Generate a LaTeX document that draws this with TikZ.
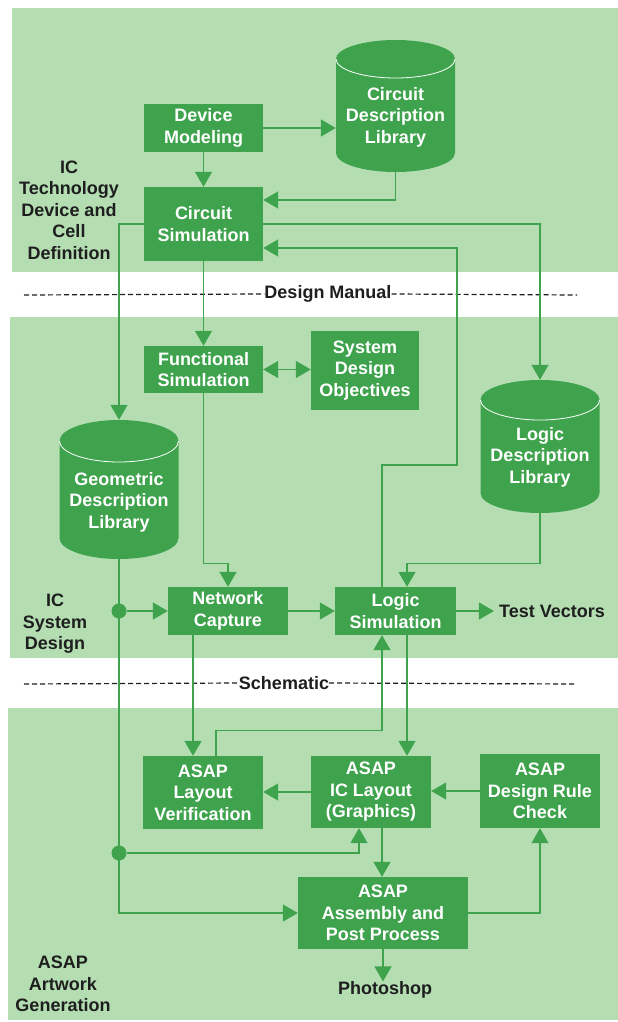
\documentclass[tikz,border=0pt]{standalone}
\usepackage{fontspec}
\setmainfont{Liberation Sans}
\usetikzlibrary{arrows.meta,calc}
\definecolor{panel}{RGB}{180,222,178}
\definecolor{boxc}{RGB}{62,163,76}
\definecolor{ink}{RGB}{30,30,30}
\tikzset{
 box/.style={fill=boxc,text=white,font=\fontsize{18}{21.5}\selectfont\bfseries,align=center,inner sep=0pt},
 lab/.style={text=ink,font=\fontsize{18}{21.5}\selectfont\bfseries,align=center,inner sep=0pt},
 wire/.style={draw=boxc,line width=1.3pt},
 arr/.style={wire,-{Triangle[length=15pt,width=17pt]}},
 darr/.style={wire,{Triangle[length=15pt,width=17pt]}-{Triangle[length=15pt,width=17pt]}},
 sepline/.style={draw=ink,line width=1.2pt,dash pattern=on 5pt off 3pt},
 dot/.style={circle,fill=boxc,minimum size=15pt,inner sep=0pt},
}
\newcommand\mycyl[8]{%
 \fill[boxc] ({#2-#5},{-(#3+#6)}) arc[start angle=180,end angle=0,x radius=#5,y radius=#6] -- ({#2+#5},{-(#4-#6)}) arc[start angle=0,end angle=-180,x radius=#5,y radius=#6] -- cycle;
 \draw[white,line width=0.8pt] ({#2-#5},{-(#3+#6)}) arc[start angle=180,end angle=360,x radius=#5,y radius=#6];
 \node[inner sep=0pt,minimum width={2*#5},minimum height={#4-#3}] (#1) at ({#2},{-(#3+#4)/2}) {};
 \node[box,fill=none] at ({#2},{-#7}) {#8};
}
\begin{document}
\begin{tikzpicture}[x=1pt,y=1pt]
\useasboundingbox (0,0) rectangle (618,-1022);
\fill[white] (0,0) rectangle (618,-1022);
% panels
\fill[panel] (12,-8) rectangle (618,-272);
\fill[panel] (10,-317) rectangle (618,-658);
\fill[panel] (8,-708) rectangle (618,-1020);

% separators
\node[lab] (dman) at (328,-294) {Design Manual};
\draw[sepline] (24,-295) -- (dman.west);
\draw[sepline] (dman.east) -- (577,-295);
\node[lab] (schem) at (284,-683) {Schematic};
\draw[sepline] (24,-684) -- (schem.west);
\draw[sepline] (schem.east) -- (577,-684);

% side labels
\node[lab] (lab1) at (69,-210) {IC\\Technology\\Device and\\Cell\\Definition};
\node[lab] (lab2) at (55,-624) {IC\\System\\Design};
\node[lab] (lab3) at (63,-984) {ASAP\\Artwork\\Generation};

% boxes
\node[box,minimum width=119,minimum height=48] (dm) at (203.5,-128) {Device\\Modeling};
\node[box,minimum width=119,minimum height=74] (cs) at (203.5,-224) {Circuit\\Simulation};
\node[box,minimum width=119,minimum height=47] (fs) at (203.5,-369.5) {Functional\\Simulation};
\node[box,minimum width=108,minimum height=79] (sdo) at (365,-370.5) {System\\Design\\Objectives};
\node[box,minimum width=120,minimum height=48] (nc) at (228,-611) {Network\\Capture};
\node[box,minimum width=121,minimum height=48] (ls) at (395.5,-611) {Logic\\Simulation};
\node[box,minimum width=120,minimum height=73] (lv) at (203,-792.5) {ASAP\\Layout\\Verification};
\node[box,minimum width=120,minimum height=72] (icl) at (371,-792) {ASAP\\IC Layout\\(Graphics)};
\node[box,minimum width=120,minimum height=74] (drc) at (540,-791) {ASAP\\Design Rule\\Check};
\node[box,minimum width=170,minimum height=72] (asm) at (383,-913) {ASAP\\Assembly and\\Post Process};
\node[lab] (tv) at (552,-611) {Test Vectors};
\node[lab] (ps) at (385,-990) {Photoshop};

% cylinders
\mycyl{cdl}{395.5}{40}{172}{59.5}{19}{117}{Circuit\\Description\\Library}
\mycyl{gdl}{119}{420}{559}{59.5}{21}{502}{Geometric\\Description\\Library}
\mycyl{ldl}{540}{380}{513}{59.5}{20}{457}{Logic\\Description\\Library}

% dots
\node[dot] (d1) at (gdl.south |- nc.west) {};
\node[dot] (d2) at (gdl.south |- 0,-853) {};

% connectors
\draw[arr] (dm.east) -- (dm.east -| cdl.west);
\draw[arr] (dm.south) -- (cs.north);
\draw[arr] (cdl.south) |- ([yshift=24pt]cs.east);
\draw[arr] (cs.east) -| (ldl.north);
\draw[arr] (cs.west) -| (gdl.north);
\draw[arr] (cs.south) -- (fs.north);
\coordinate (k1) at (457,-465);
\draw[arr] ([xshift=-13.5pt]ls.north) |- (k1) |- ([yshift=-24pt]cs.east);
\draw[darr] (fs.east) -- (fs.east -| sdo.west);
\draw[arr] (fs.south) -- ++(0,-170) -| (nc.north);
\draw[arr] (ldl.south) -- ++(0,-50) -| ([xshift=11.5pt]ls.north);
\draw[arr] (nc.east) -- (ls.west);
\draw[arr] (ls.east) -- ([xshift=-5pt]tv.west);
\draw[arr] (gdl.south) |- (asm.west);
\draw[arr] (d1) -- (nc.west);
\draw[arr] ([xshift=-35pt]nc.south) -- ([xshift=-35pt]nc.south |- lv.north);
\draw[arr] ([xshift=11.5pt]ls.south) -- ([xshift=11.5pt]ls.south |- icl.north);
\draw[arr] ([xshift=13pt]lv.north) -- ++(0,25) -| ([xshift=-13.5pt]ls.south);
\draw[arr] (icl.west) -- (icl.west -| lv.east);
\draw[arr] (drc.west) -- (drc.west -| icl.east);
\draw[arr] (d2) -| ([xshift=-12pt]icl.south);
\draw[arr] ([xshift=11pt]icl.south) -- ([xshift=11pt]icl.south |- asm.north);
\draw[arr] (asm.east) -| (drc.south);
\draw[arr] (asm.south) -- (asm.south |- ps.north);
\end{tikzpicture}
\end{document}
